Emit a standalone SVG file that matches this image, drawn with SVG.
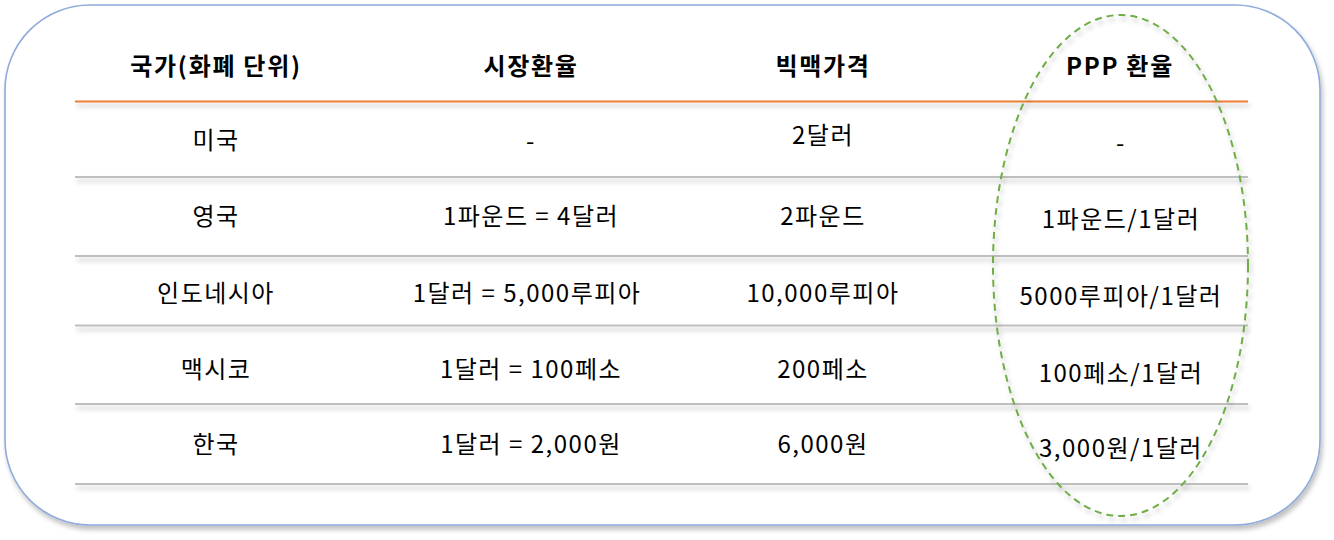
<svg xmlns="http://www.w3.org/2000/svg" width="1334" height="540" viewBox="0 0 1334 540">
<defs>
<filter id="sh" x="-5%" y="-20%" width="110%" height="140%">
<feGaussianBlur in="SourceAlpha" stdDeviation="2.5"/>
<feOffset dx="2" dy="4" result="b"/>
<feComponentTransfer><feFuncA type="linear" slope="0.25"/></feComponentTransfer>
<feMerge><feMergeNode/><feMergeNode in="SourceGraphic"/></feMerge>
</filter>
<style>
text{font-family:"Malgun Gothic","Noto Sans CJK KR","Noto Sans",sans-serif;font-size:24px;letter-spacing:1.5px;fill:#000;text-anchor:middle}
.h{font-weight:bold;font-size:24px;letter-spacing:1.7px}
.g{stroke:#bfbfbf;stroke-width:2.2}
.o{stroke:#ed7d31;stroke-width:2.2}
</style>
</defs>
<rect width="1334" height="540" fill="#fff"/>
<g id="frame" filter="url(#sh)">
<rect x="5" y="5" width="1315" height="520" rx="85" ry="85" fill="#fff" stroke="#8faadc" stroke-width="1.6"/>
</g>
<g id="connectors" filter="url(#sh)">
<line class="o" x1="75" y1="101.5" x2="1248" y2="101.5"/>
<line class="g" x1="75" y1="177" x2="1248" y2="177"/>
<line class="g" x1="75" y1="256" x2="1248" y2="256"/>
<line class="g" x1="75" y1="325.5" x2="1248" y2="325.5"/>
<line class="g" x1="75" y1="404" x2="1248" y2="404"/>
<line class="g" x1="75" y1="484" x2="1248" y2="484"/>
</g>
<g id="header">
<text class="h" x="216" y="75">국가(화폐 단위)</text>
<text class="h" x="531" y="75">시장환율</text>
<text class="h" x="823" y="75">빅맥가격</text>
<text class="h" x="1120" y="75">PPP 환율</text>
</g>
<g id="row-us">
<text x="216" y="149">미국</text>
<text x="531" y="150">-</text>
<text x="823" y="144">2달러</text>
<text x="1121" y="152">-</text>
</g>
<g id="row-uk">
<text x="216" y="225">영국</text>
<text x="531" y="225">1파운드 = 4달러</text>
<text x="823" y="225">2파운드</text>
<text x="1121" y="228">1파운드/1달러</text>
</g>
<g id="row-id">
<text x="216" y="302">인도네시아</text>
<text x="527" y="302">1달러 = 5,000루피아</text>
<text x="823" y="302">10,000루피아</text>
<text x="1121" y="305">5000루피아/1달러</text>
</g>
<g id="row-mx">
<text x="216" y="378">맥시코</text>
<text x="531" y="378">1달러 = 100페소</text>
<text x="823" y="378">200페소</text>
<text x="1121" y="382">100페소/1달러</text>
</g>
<g id="row-kr">
<text x="216" y="453">한국</text>
<text x="531" y="453">1달러 = 2,000원</text>
<text x="823" y="453">6,000원</text>
<text x="1121" y="457">3,000원/1달러</text>
</g>
<g id="ppp-highlight" filter="url(#sh)">
<ellipse cx="1120.5" cy="265.5" rx="127.5" ry="250.5" fill="none" stroke="#70ad47" stroke-width="2" stroke-dasharray="7,5"/>
</g>
</svg>
